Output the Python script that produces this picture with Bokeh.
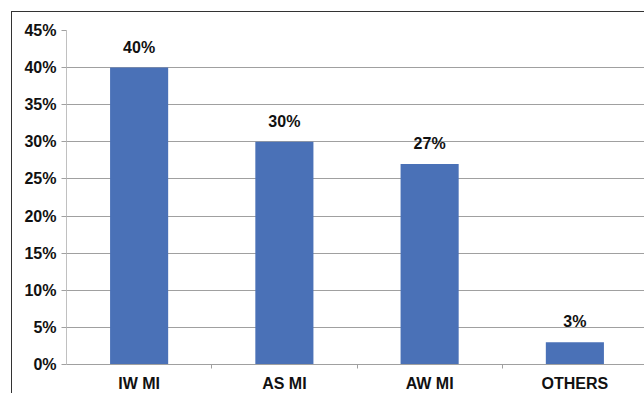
from bokeh.plotting import figure
from bokeh.models import ColumnDataSource, Range1d, FixedTicker, NumeralTickFormatter
from bokeh.core.properties import value
from bokeh.embed import file_html
from bokeh.resources import INLINE

categories = ["IW MI", "AS MI", "AW MI", "OTHERS"]
values = [0.40, 0.30, 0.27, 0.03]
labels = ["40%", "30%", "27%", "3%"]
y_ticks = [0, 0.05, 0.10, 0.15, 0.20, 0.25, 0.30, 0.35, 0.40, 0.45]

xs = [i + 0.5 for i in range(len(categories))]
src = ColumnDataSource(dict(x=xs, top=values, label=labels))

FONT = "Liberation Sans"
BLUE = "#4a71b7"
TXT = "#111111"

p = figure(width=633, height=382, output_backend="svg", toolbar_location=None,
           x_range=Range1d(0, 578 / 145), y_range=Range1d(0, 0.45),
           min_border_left=54, min_border_top=18, min_border_bottom=28, min_border_right=0,
           margin=(11, 0, 0, 11),
           styles={"border-left": "1px solid #333333", "border-top": "1px solid #333333"})
p.outline_line_color = None
p.background_fill_color = "white"
p.border_fill_color = "white"

p.vbar(x="x", top="top", bottom=0, width=0.4, source=src, fill_color=BLUE, line_color=None)
p.text(x="x", y="top", text="label", source=src, y_offset=-12,
       text_align="center", text_baseline="bottom",
       text_font=value(FONT), text_font_style="bold", text_font_size="16px", text_color=TXT)

# y axis
p.yaxis.ticker = FixedTicker(ticks=y_ticks)
p.yaxis.formatter = NumeralTickFormatter(format="0%")
p.yaxis.axis_line_color = "#c0c0c0"
p.yaxis.major_tick_line_color = "#a0a0a0"
p.yaxis.major_tick_out = 5
p.yaxis.major_tick_in = 0
p.yaxis.minor_tick_line_color = None
p.yaxis.major_label_text_font = FONT
p.yaxis.major_label_text_font_style = "bold"
p.yaxis.major_label_text_font_size = "16px"
p.yaxis.major_label_text_color = TXT
p.yaxis.major_label_standoff = 5

# x axis
p.xaxis.ticker = FixedTicker(ticks=xs, minor_ticks=[1, 2, 3])
p.xaxis.major_label_overrides = {x: c for x, c in zip(xs, categories)}
p.xaxis.axis_line_color = "#a0a0a0"
p.xaxis.major_tick_line_color = None
p.xaxis.minor_tick_line_color = "#a0a0a0"
p.xaxis.minor_tick_out = 4
p.xaxis.minor_tick_in = 0
p.xaxis.major_label_text_font = FONT
p.xaxis.major_label_text_font_style = "bold"
p.xaxis.major_label_text_font_size = "16px"
p.xaxis.major_label_text_color = TXT
p.xaxis.major_label_standoff = 4

p.xgrid.grid_line_color = None
p.ygrid.ticker = FixedTicker(ticks=y_ticks)
p.ygrid.grid_line_color = "#a0a0a0"

open("out.html", "w").write(file_html(p, INLINE))
